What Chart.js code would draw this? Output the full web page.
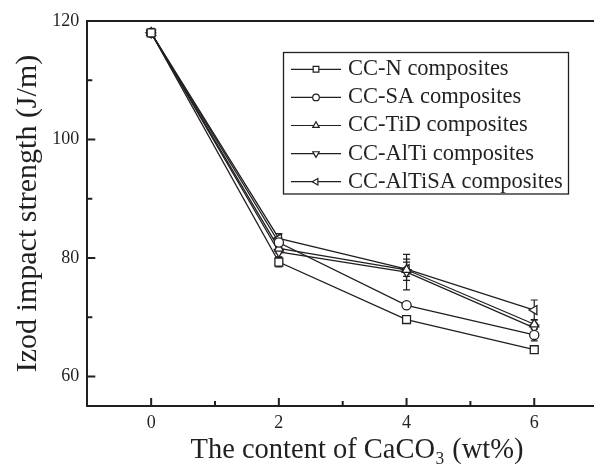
<!DOCTYPE html>
<html><head><meta charset="utf-8">
<script src="https://cdn.jsdelivr.net/npm/chart.js@4"></script>
<style>
html,body{margin:0;padding:0;background:#fff;overflow:hidden;width:594px;height:470px}
#wrap{position:absolute;left:0;top:0;width:605px;height:470px}
</style>
</head><body><div id="wrap"><canvas id="c" width="605" height="470"></canvas></div>
<script>
// ---- data ----
const contents = [0, 2, 4, 6];
const xTickValues = [0, 2, 4, 6];
const xMinorValues = [1, 3, 5];
const yTickValues = [60, 80, 100, 120];
const yMinorValues = [70, 90, 110];
const seriesNames = ['CC-N composites', 'CC-SA composites', 'CC-TiD composites', 'CC-AlTi composites', 'CC-AlTiSA composites'];
const ccN      = [118, 79.3, 69.6, 64.5];
const ccSA     = [118, 82.6, 72.0, 67.0];
const ccTiD    = [118, 81.6, 78.0, 68.8];
const ccAlTi   = [118, 81.0, 77.6, 68.2];
const ccAlTiSA = [118, 83.3, 78.1, 71.2];
const errN      = [0.4, 0.8, 0.4, 0.6];
const errSA     = [0.4, 0.8, 0.4, 1.0];
const errTiD    = [0.4, 0.8, 1.8, 0.8];
const errAlTi   = [0.4, 0.8, 3.0, 0.8];
const errAlTiSA = [0.4, 0.8, 1.2, 1.7];

const INK = '#231f20';
const SERIF = '"Liberation Serif", "Times New Roman", serif';

const seriesValues = [ccN, ccSA, ccTiD, ccAlTi, ccAlTiSA];
const seriesErrors = [errN, errSA, errTiD, errAlTi, errAlTiSA];
const markerStyles = [
  {pointStyle: 'rect', rotation: 0, pointRadius: 5.6},
  {pointStyle: 'circle', rotation: 0, pointRadius: 4.6},
  {pointStyle: 'triangle', rotation: 0, pointRadius: 5.2},
  {pointStyle: 'triangle', rotation: 180, pointRadius: 5.2},
  {pointStyle: 'triangle', rotation: 270, pointRadius: 5.2}
];

const datasets = seriesValues.map((vals, i) => ({
  label: seriesNames[i],
  data: contents.map((c, j) => ({x: c, y: vals[j]})),
  errors: seriesErrors[i],
  borderColor: INK,
  borderWidth: 1.3,
  backgroundColor: '#fff',
  pointBackgroundColor: '#fff',
  pointBorderColor: INK,
  pointBorderWidth: 1.3,
  pointStyle: markerStyles[i].pointStyle,
  rotation: markerStyles[i].rotation,
  pointRadius: markerStyles[i].pointRadius,
  tension: 0,
  showLine: true,
  fill: false
}));

// error bars through the library scales
const errorBars = {
  id: 'errorBars',
  beforeDatasetsDraw(chart) {
    const {ctx, scales: {x, y}} = chart;
    ctx.save();
    ctx.strokeStyle = INK;
    ctx.lineWidth = 1.2;
    chart.data.datasets.forEach(ds => {
      ds.data.forEach((p, j) => {
        const e = ds.errors[j];
        const px = x.getPixelForValue(p.x);
        const y1 = y.getPixelForValue(p.y + e);
        const y2 = y.getPixelForValue(p.y - e);
        ctx.beginPath();
        ctx.moveTo(px, y1); ctx.lineTo(px, y2);
        ctx.moveTo(px - 3.5, y1); ctx.lineTo(px + 3.5, y1);
        ctx.moveTo(px - 3.5, y2); ctx.lineTo(px + 3.5, y2);
        ctx.stroke();
      });
    });
    ctx.restore();
  }
};

// frame top line + inward ticks
const frame = {
  id: 'frame',
  afterDraw(chart) {
    const {ctx, chartArea: a, scales: {x, y}} = chart;
    ctx.save();
    ctx.strokeStyle = INK;
    ctx.lineWidth = 2;
    ctx.beginPath();
    ctx.moveTo(a.left - 1, a.top); ctx.lineTo(a.right, a.top);
    xTickValues.forEach(v => { const p = x.getPixelForValue(v); ctx.moveTo(p, a.bottom); ctx.lineTo(p, a.bottom - 8); });
    xMinorValues.forEach(v => { const p = x.getPixelForValue(v); ctx.moveTo(p, a.bottom); ctx.lineTo(p, a.bottom - 5); });
    yTickValues.forEach(v => { const p = y.getPixelForValue(v); ctx.moveTo(a.left, p); ctx.lineTo(a.left + 8, p); });
    yMinorValues.forEach(v => { const p = y.getPixelForValue(v); ctx.moveTo(a.left, p); ctx.lineTo(a.left + 5, p); });
    ctx.stroke();
    ctx.restore();
  }
};

// legend box drawn inside the plot
const insideLegend = {
  id: 'insideLegend',
  afterDraw(chart, args, o) {
    const ctx = chart.ctx;
    ctx.save();
    ctx.strokeStyle = INK;
    ctx.lineWidth = 1.3;
    ctx.strokeRect(o.left, o.top, o.width, o.height);
    ctx.font = o.fontSize + 'px ' + SERIF;
    ctx.textBaseline = 'middle';
    ctx.textAlign = 'left';
    chart.data.datasets.forEach((ds, i) => {
      const cy = o.top + o.firstRow + i * o.rowGap;
      ctx.strokeStyle = INK;
      ctx.lineWidth = 1.2;
      ctx.beginPath();
      ctx.moveTo(o.lineX0, cy); ctx.lineTo(o.lineX1, cy);
      ctx.stroke();
      ctx.fillStyle = '#fff';
      Chart.helpers.drawPoint(ctx, {pointStyle: ds.pointStyle, rotation: ds.rotation, radius: o.markerRadius * ds.pointRadius / 5, borderWidth: 1.1}, (o.lineX0 + o.lineX1) / 2, cy);
      ctx.fillStyle = INK;
      ctx.fillText(ds.label, o.textX, cy);
    });
    ctx.restore();
  }
};

new Chart(document.getElementById('c'), {
  type: 'scatter',
  data: {datasets},
  plugins: [errorBars, frame, insideLegend],
  options: {
    responsive: false,
    animation: false,
    devicePixelRatio: 1,
    layout: {padding: {top: 21, right: 0, left: 0, bottom: 0}},
    plugins: {
      legend: {display: false},
      tooltip: {enabled: false},
      insideLegend: {left: 283.5, top: 52.5, width: 285, height: 141.5, firstRow: 16.8, rowGap: 28.1,
                     lineX0: 291, lineX1: 341, textX: 348, fontSize: 22.5, markerRadius: 3.6}
    },
    scales: {
      x: {
        type: 'linear', min: -1, max: 7,
        afterBuildTicks: s => { s.ticks = xTickValues.map(v => ({value: v})); },
        afterFit: s => { s.height = 64; },
        grid: {display: false, drawTicks: false},
        border: {display: true, color: INK, width: 2},
        ticks: {color: INK, padding: 6, font: {family: SERIF, size: 18}},
        title: {display: true, text: '    The content of CaCO\u2083 (wt%)', color: INK,
                font: {family: SERIF, size: 28.5}, padding: {top: 0, bottom: 2}}
      },
      y: {
        type: 'linear', min: 55, max: 120,
        afterBuildTicks: s => { s.ticks = yTickValues.map(v => ({value: v})); },
        afterFit: s => { s.width = 87.3; },
        grid: {display: false, drawTicks: false},
        border: {display: true, color: INK, width: 2},
        ticks: {color: INK, padding: 8, font: {family: SERIF, size: 18}},
        title: {display: true, text: 'Izod impact strength (J/m)', color: INK,
                font: {family: SERIF, size: 30}, padding: {top: 10, bottom: 0}}
      }
    }
  }
});
</script>
</body></html>
